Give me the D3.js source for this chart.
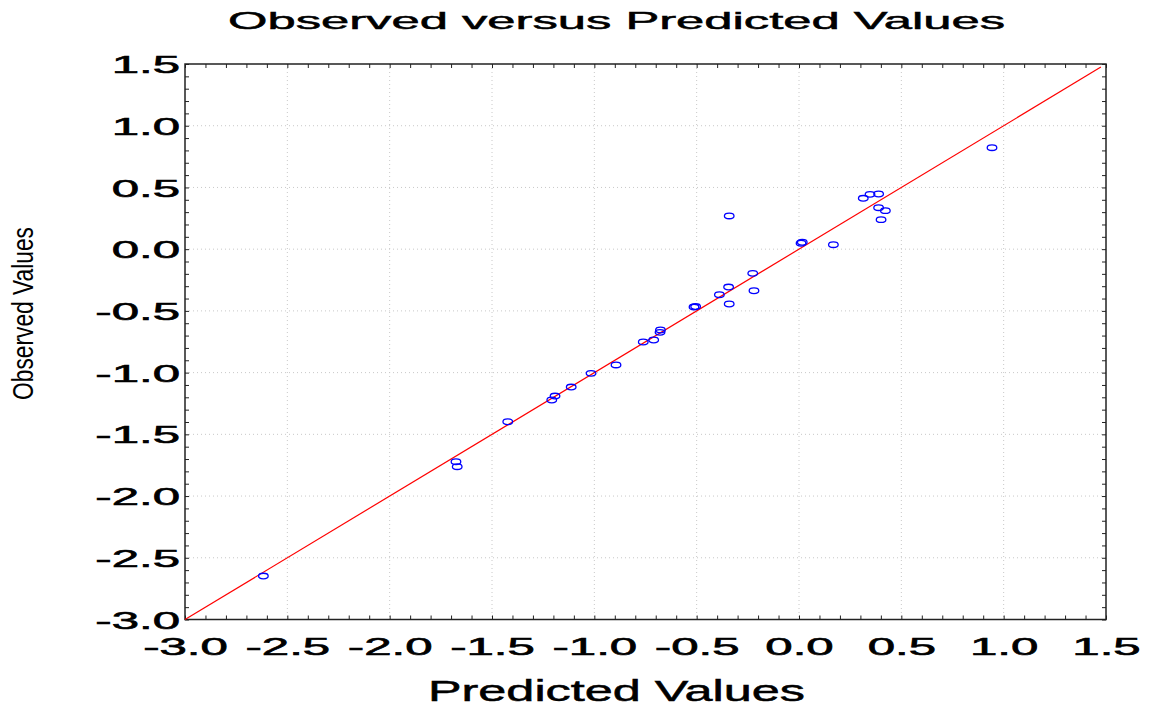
<!DOCTYPE html>
<html>
<head>
<meta charset="utf-8">
<script src="https://cdn.jsdelivr.net/npm/d3@7"></script>
<style>
  html, body { margin: 0; padding: 0; background: #fff; }
  svg { display: block; }
  text { font-family: "Liberation Sans", Arial, sans-serif; fill: #000; }
</style>
</head>
<body>
<svg id="chart" width="1160" height="709"></svg>
<script>
// Predicted vs observed values, one entry per case
const predicted = [-2.617, -1.676, -1.670, -1.423, -1.208, -1.192, -1.113, -1.016, -0.894, -0.761,
                   -0.710, -0.679, -0.677, -0.513, -0.505, -0.389, -0.344, -0.341, -0.341, -0.226,
                   -0.220, 0.010, 0.016, 0.168, 0.314, 0.347, 0.389, 0.389, 0.422, 0.401, 0.943];
const observed  = [-2.648, -1.722, -1.762, -1.398, -1.222, -1.190, -1.117, -1.006, -0.938, -0.752,
                   -0.736, -0.674, -0.655, -0.469, -0.465, -0.369, -0.307, -0.444, 0.269, -0.196,
                   -0.337, 0.048, 0.056, 0.036, 0.412, 0.444, 0.447, 0.336, 0.312, 0.239, 0.822];

// Identity reference line (observed = predicted)
const identityLine = [[-3.0, -3.0], [1.475, 1.475]];

const majorTicks = [-3.0, -2.5, -2.0, -1.5, -1.0, -0.5, 0.0, 0.5, 1.0, 1.5];
const tickLabels = ["-3.0", "-2.5", "-2.0", "-1.5", "-1.0", "-0.5", "0.0", "0.5", "1.0", "1.5"];
const minorTicks = d3.range(-30, 16).map(i => i / 10);

const titleText = "Observed versus Predicted Values";
const xTitle = "Predicted Values";
const yTitle = "Observed Values";

const svg = d3.select("#chart");
const L = 185, R = 1106, T = 64, B = 619.5;

const x = d3.scaleLinear().domain([-3, 1.5]).range([L, R]);
const y = d3.scaleLinear().domain([-3, 1.5]).range([B, T]);

// dotted grid at major ticks
const grid = svg.append("g").attr("stroke", "#c8c8c8").attr("stroke-width", 1)
  .attr("stroke-dasharray", "1,3");
grid.selectAll(".gx").data(majorTicks.slice(1, -1)).join("line")
  .attr("x1", d => x(d)).attr("x2", d => x(d)).attr("y1", T).attr("y2", B);
grid.selectAll(".gy").data(majorTicks.slice(1, -1)).join("line")
  .attr("y1", d => y(d)).attr("y2", d => y(d)).attr("x1", L).attr("x2", R);

// inward ticks on all four sides
const noLabel = () => "";
const axisBottomEdge = svg.append("g").attr("transform", `translate(0,${B})`)
  .call(d3.axisTop(x).tickValues(minorTicks).tickSize(4).tickFormat(noLabel));
const axisTopEdge = svg.append("g").attr("transform", `translate(0,${T})`)
  .call(d3.axisBottom(x).tickValues(minorTicks).tickSize(4).tickFormat(noLabel));
const axisLeftEdge = svg.append("g").attr("transform", `translate(${L},0)`)
  .call(d3.axisRight(y).tickValues(minorTicks).tickSize(4).tickFormat(noLabel));
const axisRightEdge = svg.append("g").attr("transform", `translate(${R},0)`)
  .call(d3.axisLeft(y).tickValues(minorTicks).tickSize(4).tickFormat(noLabel));
[axisBottomEdge, axisTopEdge, axisLeftEdge, axisRightEdge].forEach(g => {
  g.select(".domain").remove();
  g.selectAll("line").attr("stroke", "#222").attr("stroke-width", 1);
});

// tick labels via axes, stretched wide
const xLab = svg.append("g").attr("transform", `translate(0,${B})`)
  .call(d3.axisBottom(x).tickValues(majorTicks).tickSize(0)
    .tickFormat((d, i) => tickLabels[i]));
xLab.select(".domain").remove();
xLab.selectAll("text")
  .attr("y", 35.5).attr("dy", null)
  .attr("font-size", 24).attr("fill", "#000")
  .attr("stroke", "#000").attr("stroke-width", 0.6)
  .attr("font-family", "Liberation Sans, Arial, sans-serif")
  .attr("transform", "scale(2.05,1)");

const yLab = svg.append("g").attr("transform", `translate(${L},0)`)
  .call(d3.axisLeft(y).tickValues(majorTicks).tickSize(0)
    .tickFormat((d, i) => tickLabels[i]));
yLab.select(".domain").remove();
yLab.selectAll("text")
  .attr("x", -2.4).attr("dy", "0.36em")
  .attr("font-size", 24).attr("fill", "#000")
  .attr("stroke", "#000").attr("stroke-width", 0.6)
  .attr("font-family", "Liberation Sans, Arial, sans-serif")
  .attr("transform", "scale(2.05,1)");

// frame
svg.append("rect").attr("x", L).attr("y", T).attr("width", R - L).attr("height", B - T)
  .attr("fill", "none").attr("stroke", "#222").attr("stroke-width", 1.5);

// identity line
svg.append("path")
  .datum(identityLine)
  .attr("d", d3.line().x(d => x(d[0])).y(d => y(d[1])))
  .attr("stroke", "#ff0000").attr("stroke-width", 1.2).attr("fill", "none");

// observations
svg.append("g").selectAll("ellipse")
  .data(predicted.map((p, i) => [p, observed[i]]))
  .join("ellipse")
  .attr("cx", d => x(d[0])).attr("cy", d => y(d[1]))
  .attr("rx", 4.8).attr("ry", 2.8)
  .attr("fill", "none").attr("stroke", "#0000ff").attr("stroke-width", 1.3);

// titles
svg.append("text").attr("x", 228).attr("y", 29)
  .attr("font-size", 24)
  .attr("stroke", "#000").attr("stroke-width", 0.5)
  .attr("textLength", 777).attr("lengthAdjust", "spacingAndGlyphs")
  .text(titleText);

svg.append("text").attr("x", 428).attr("y", 701)
  .attr("font-size", 29)
  .attr("stroke", "#000").attr("stroke-width", 0.5)
  .attr("textLength", 377).attr("lengthAdjust", "spacingAndGlyphs")
  .text(xTitle);

svg.append("text")
  .attr("transform", "translate(33,400) rotate(-90)")
  .attr("font-size", 29)
  .attr("textLength", 173).attr("lengthAdjust", "spacingAndGlyphs")
  .text(yTitle);
</script>
</body>
</html>
